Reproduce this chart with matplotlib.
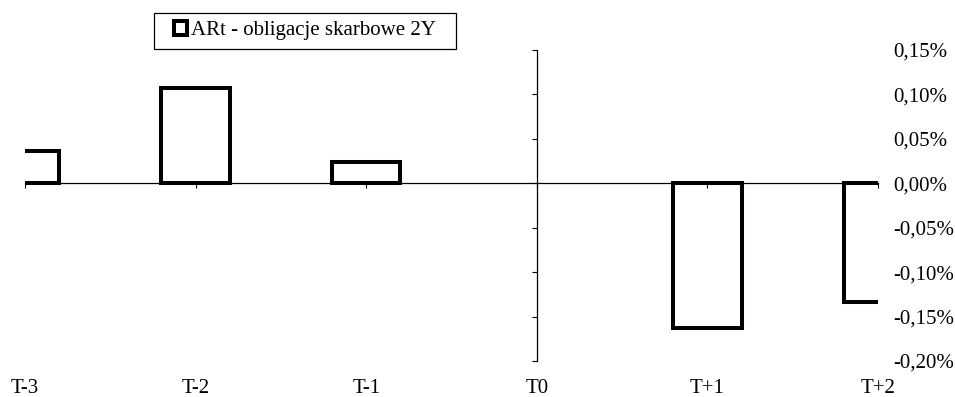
import matplotlib.pyplot as plt
import matplotlib.transforms as mtransforms
from matplotlib.ticker import FuncFormatter
from matplotlib.path import Path
import numpy as np

# data (abnormal returns, in %)
categories = ["T-3", "T-2", "T-1", "T0", "T+1", "T+2"]
ar_values = [0.036, 0.107, 0.024, np.nan, -0.163, -0.134]
y_ticks = [0.15, 0.10, 0.05, 0.00, -0.05, -0.10, -0.15, -0.20]
series_name = "ARt - obligacje skarbowe 2Y"

plt.rcParams['font.family'] = ['Liberation Serif', 'DejaVu Serif']
plt.rcParams['font.size'] = 15

fig = plt.figure(figsize=(9.55, 3.97), dpi=100)
ax = fig.add_axes([25 / 955, 1 - 361 / 397, 853 / 955, 311 / 397])

x = np.arange(len(categories))
ax.bar(x, ar_values, width=0.4, color='white', edgecolor='black',
       linewidth=2.9, label=series_name)

ax.set_xlim(0, len(categories) - 1)
ax.set_ylim(-0.20, 0.15)

# spines: x axis at zero, y axis at T0
for side in ['top', 'right']:
    ax.spines[side].set_visible(False)
ax.spines['bottom'].set_position(('data', 0))
ax.spines['left'].set_position(('data', 3))
ax.spines['bottom'].set_linewidth(0.9)
ax.spines['left'].set_linewidth(0.9)

ax.set_xticks(x)
ax.tick_params(axis='x', direction='out', length=3.5, width=0.8,
               labelbottom=False)
ax.set_yticks(y_ticks)
ax.yaxis.set_major_formatter(FuncFormatter(
    lambda v, pos: f"{v:.2f}%".replace('.', ',')))
ax.tick_params(axis='y', left=True, right=False, labelleft=False,
               labelright=True, direction='out', length=3.6, width=0.8,
               pad=7.2)
for lab in ax.get_yticklabels():
    lab.set_horizontalalignment('left')

# category labels along the bottom
trans = mtransforms.blended_transform_factory(ax.transData, ax.transAxes)
for xi, cat in zip(x, categories):
    ax.text(xi, -0.087, cat, transform=trans, ha='center', va='center')


# legend frame with extra horizontal padding (Excel style)
def wide_box(x0, y0, width, height, mutation_size):
    padx = 0.59 * mutation_size
    x1, y1 = x0 + width + padx, y0 + height
    x0 = x0 - padx
    return Path([(x0, y0), (x1, y0), (x1, y1), (x0, y1), (x0, y0)],
                closed=True)


leg = ax.legend(loc='upper left', bbox_to_anchor=(166 / 955, 1 - 13 / 397),
                bbox_transform=fig.transFigure, borderaxespad=0,
                handlelength=0.6, handleheight=0.6, handletextpad=0.2,
                borderpad=0.4, fancybox=False, framealpha=1)
leg.get_frame().set_boxstyle(wide_box)
leg.get_frame().set_edgecolor('black')
leg.get_frame().set_linewidth(0.9)

fig.savefig("out.png", dpi=100)
